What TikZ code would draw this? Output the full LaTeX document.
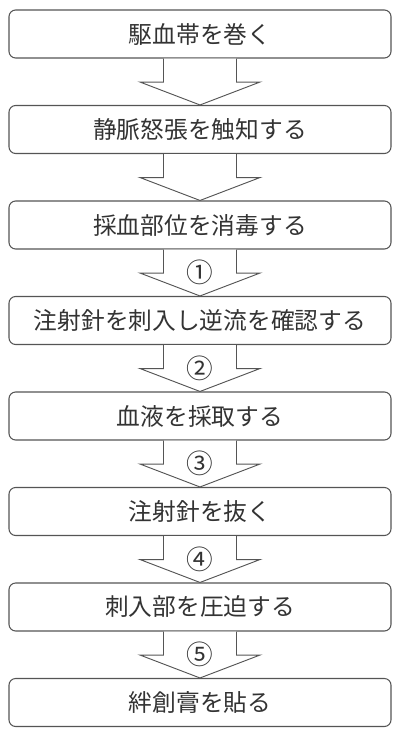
\documentclass[tikz,border=0pt]{standalone}
\usepackage{fontspec}
\newfontfamily\cjk{Noto Sans CJK JP}
\usetikzlibrary{calc}
\definecolor{edge}{HTML}{555555}
\definecolor{ink}{HTML}{333333}
\tikzset{
  stepbox/.style={draw=edge, line width=0.8pt, rounded corners=5pt, fill=white,
    minimum width=286.5pt, minimum height=36pt, inner sep=0pt,
    font=\cjk\fontsize{17.8pt}{20pt}\selectfont, text=ink},
  arrowline/.style={draw=edge, line width=0.7pt, fill=white, line join=miter},
  numlabel/.style={font=\cjk\fontsize{20pt}{22pt}\selectfont, text=ink, inner sep=0pt}
}
\begin{document}
\begin{tikzpicture}[x=0.75pt,y=-0.75pt]
\useasboundingbox (0,0) rectangle (400,739);
\node[stepbox] (b1) at (200,34)    {駆血帯を巻く};
\node[stepbox] (b2) at (200,129.5) {静脈怒張を触知する};
\node[stepbox] (b3) at (200,225)   {採血部位を消毒する};
\node[stepbox] (b4) at (200,320.5) {注射針を刺入し逆流を確認する};
\node[stepbox] (b5) at (200,416)   {血液を採取する};
\node[stepbox] (b6) at (200,511.5) {注射針を抜く};
\node[stepbox] (b7) at (200,607)   {刺入部を圧迫する};
\node[stepbox] (b8) at (200,702.5) {絆創膏を貼る};
\foreach \i [evaluate=\i as \j using int(\i+1)] in {1,...,7} {
  \draw[arrowline] ($(b\i.south)+(-36.5,0)$) -- ++(0,23.5) -- ++(-23.5,0)
    -- (b\j.north) -- ($(b\i.south)+(60,23.5)$) -- ++(-23.5,0) -- ++(0,-23.5);
}
\node[numlabel] (n1) at ($(b3.south)+(0,23)$) {①};
\node[numlabel] (n2) at ($(b4.south)+(0,23)$) {②};
\node[numlabel] (n3) at ($(b5.south)+(0,23)$) {③};
\node[numlabel] (n4) at ($(b6.south)+(0,23)$) {④};
\node[numlabel] (n5) at ($(b7.south)+(0,23)$) {⑤};
\end{tikzpicture}
\end{document}
